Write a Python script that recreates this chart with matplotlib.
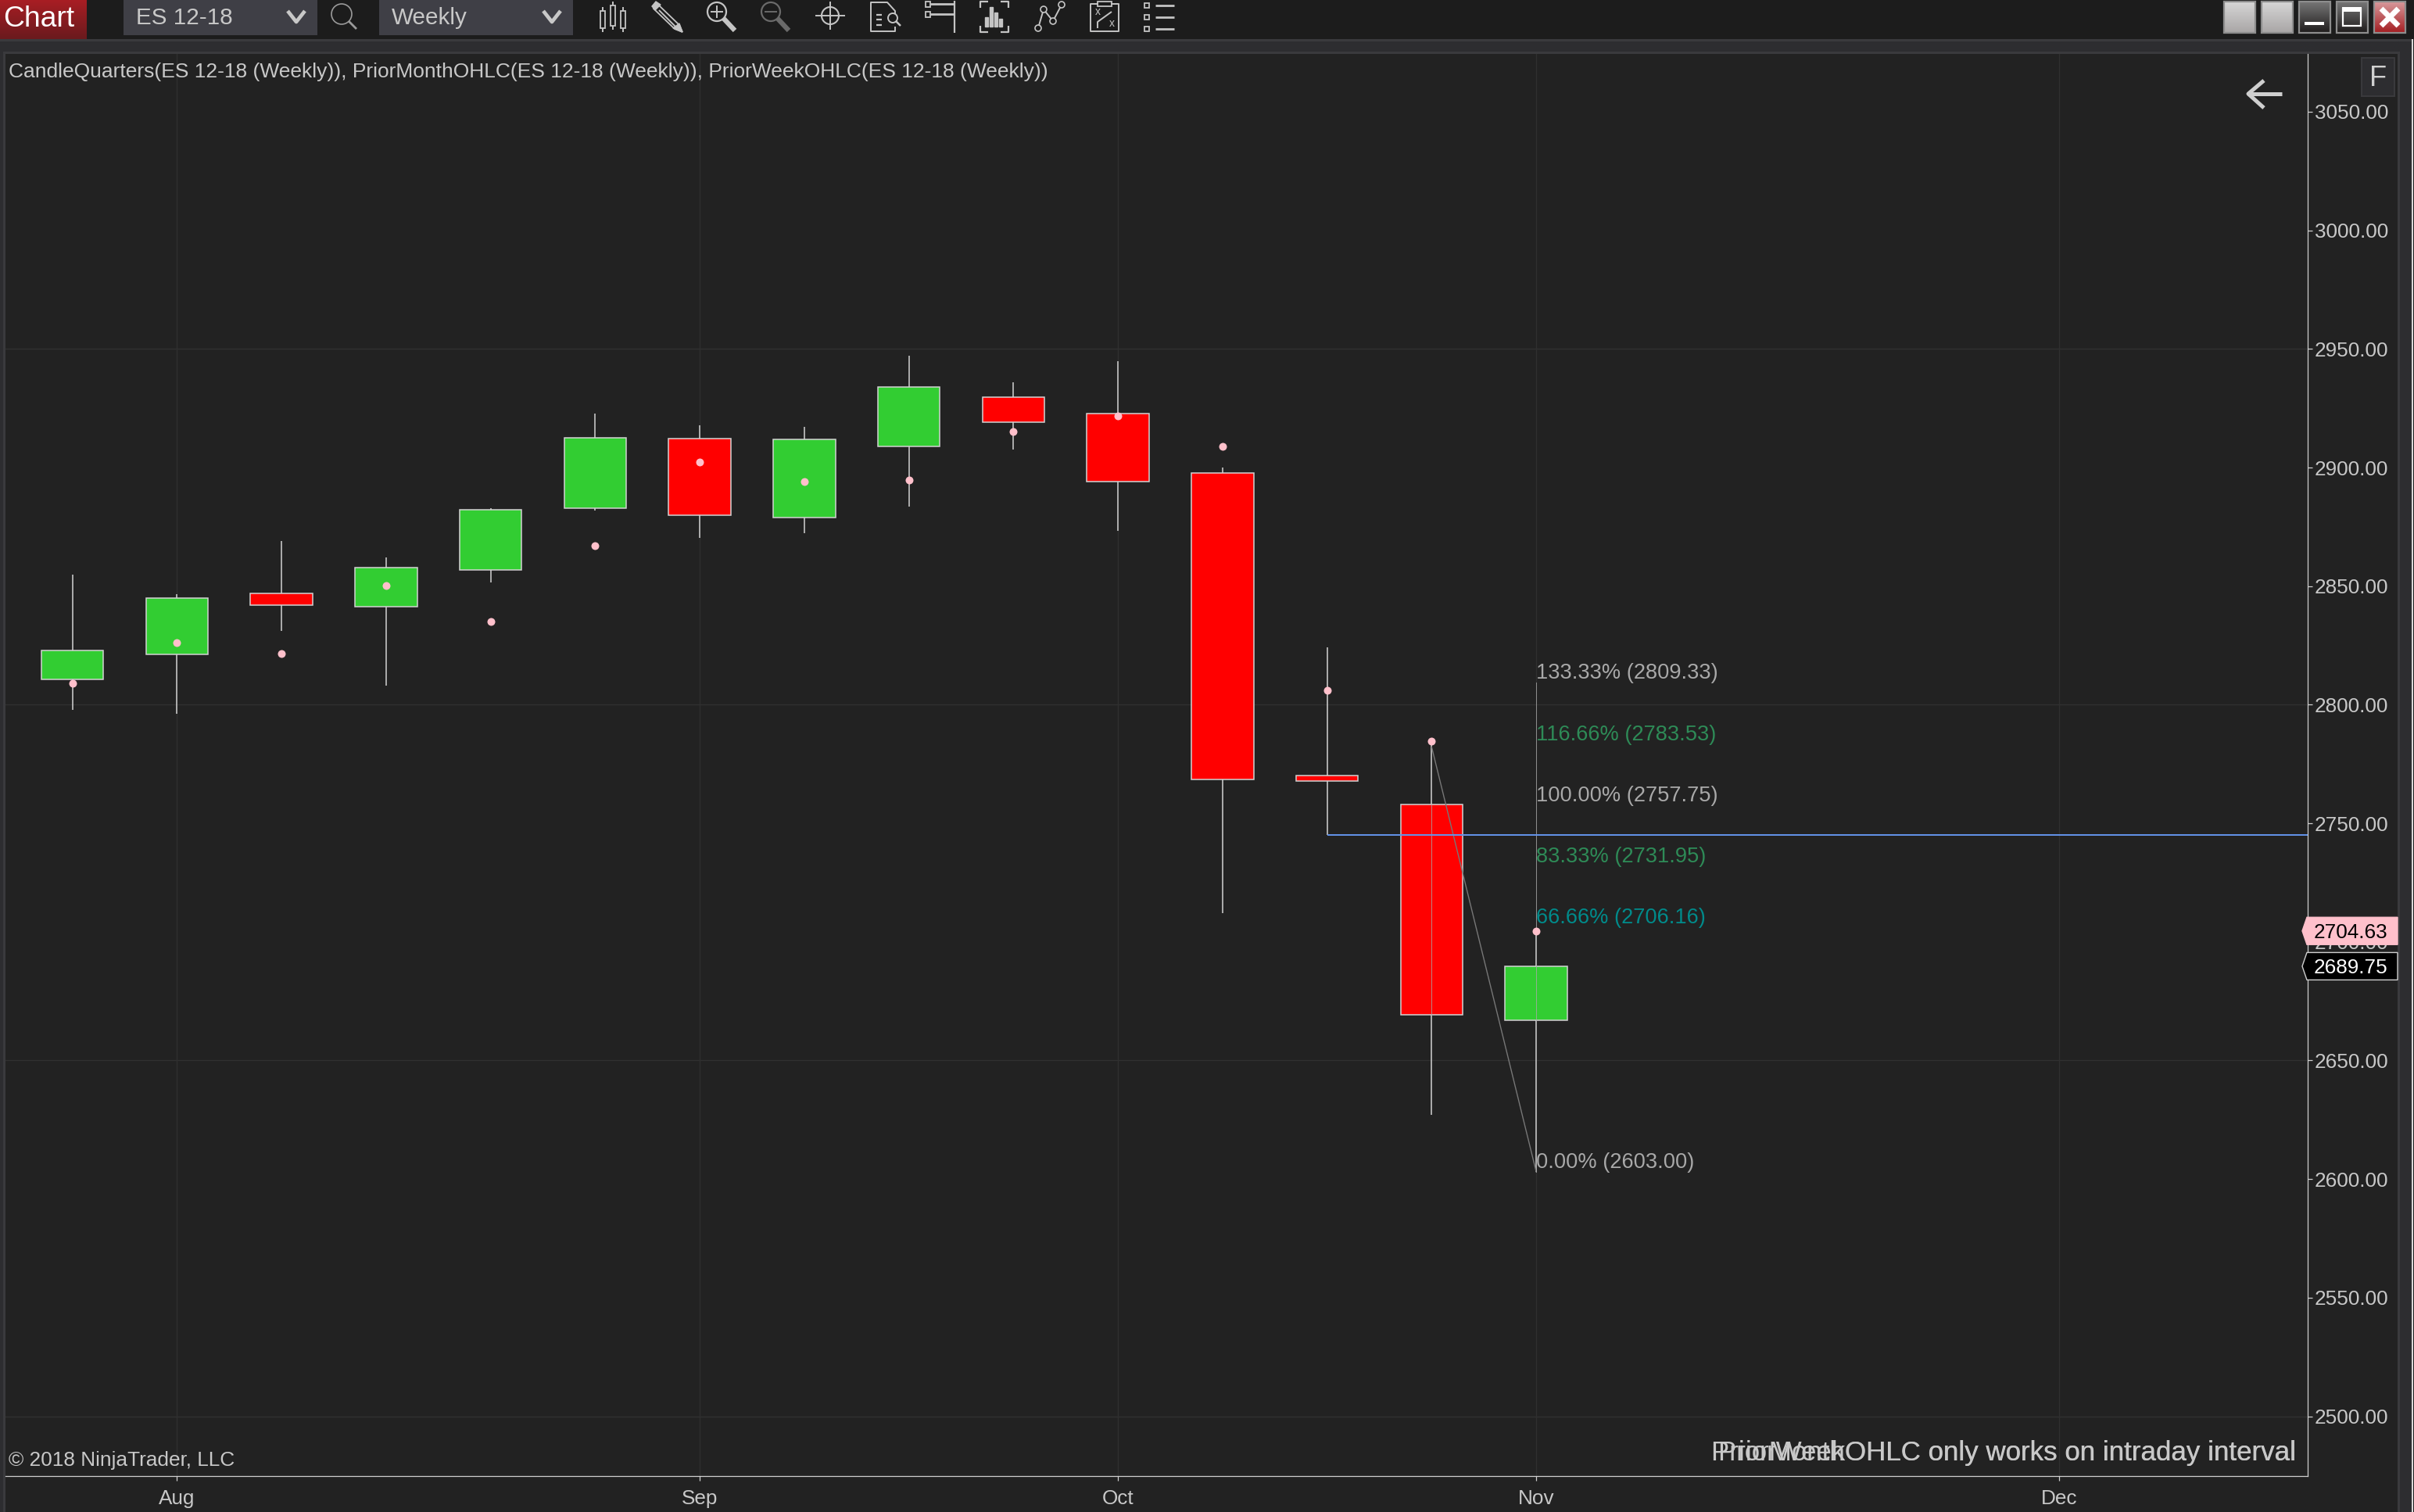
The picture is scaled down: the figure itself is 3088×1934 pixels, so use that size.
import numpy as np
import matplotlib
matplotlib.use("Agg")
import matplotlib.pyplot as plt
from matplotlib.patches import Rectangle, Circle, Polygon, Ellipse

plt.rcParams['font.family'] = ['Liberation Sans', 'DejaVu Sans']

# ---- data ----
opens  = [2810.6, 2821.3, 2846.8, 2841.2, 2856.9, 2883.0, 2912.1, 2879.0, 2909.0, 2929.6, 2922.6, 2897.6, 2770.0, 2758.0, 2667.0]
closes = [2822.8, 2844.8, 2842.1, 2857.7, 2882.1, 2912.4, 2880.0, 2911.8, 2933.8, 2919.2, 2894.2, 2768.6, 2767.7, 2669.4, 2689.75]
highs  = [2854.8, 2846.6, 2869.0, 2862.1, 2882.9, 2922.7, 2917.8, 2917.1, 2947.1, 2935.9, 2944.8, 2900.0, 2824.1, 2784.6, 2704.63]
lows   = [2797.9, 2796.3, 2831.2, 2808.1, 2851.5, 2881.9, 2870.3, 2872.3, 2883.6, 2907.6, 2873.4, 2712.1, 2745.1, 2627.2, 2603.0]
dots   = [2809.0, 2826.2, 2821.6, 2850.2, 2835.1, 2867.0, 2902.3, 2894.1, 2894.7, 2915.2, 2921.8, 2908.9, 2806.1, 2784.7, 2704.63]
month_idx = [1, 6, 10, 14, 19]
month_lbl = ['Aug', 'Sep', 'Oct', 'Nov', 'Dec']
y_ticks = [2500, 2550, 2600, 2650, 2700, 2750, 2800, 2850, 2900, 2950, 3000, 3050]
y_grid = [2500, 2650, 2800, 2950]
fib_pct = ['133.33%', '116.66%', '100.00%', '83.33%', '66.66%', '0.00%']
fib_val = [2809.33, 2783.53, 2757.75, 2731.95, 2706.16, 2603.00]
fib_col = ['#a9a9a9', '#2e8b57', '#a9a9a9', '#2e8b57', '#008b8b', '#a9a9a9']
blue_level = 2745.25
last_pink = 2704.63
last_close = 2689.75

W, H = 3088, 1934
BG = '#222222'
STRIP = '#2d2d30'
BORDER = '#3a3a3d'
TXT = '#c8c8c8'
TS = 18.8

fig = plt.figure(figsize=(W / 100, H / 100), dpi=100, facecolor=BG)

# under-layer chrome
under = fig.add_axes([0, 0, 1, 1], zorder=0)
under.set_xlim(0, W); under.set_ylim(H, 0); under.axis('off')
def rect(a, x0, y0, x1, y1, c, **k):
    a.add_patch(Rectangle((x0, y0), x1 - x0, y1 - y0, facecolor=c, edgecolor=k.pop('ec', 'none'), lw=k.pop('lw', 0), **k))
rect(under, 0, 0, W, 50, '#1c1c1c')
rect(under, 0, 50, W, 53, BORDER)
rect(under, 0, 53, W, 66, STRIP)
rect(under, 4, 66, 3070, 69, BORDER)
rect(under, 0, 66, 4, H, STRIP)
rect(under, 4, 66, 7, H, BORDER)
rect(under, 3067, 66, 3070, H, BORDER)
rect(under, 3070, 53, 3085, H, STRIP)
rect(under, 3085, 50, 3087, H, '#d8d8d8')
rect(under, 3087, 50, W, H, '#1c1c1c')

# main chart
x0, x1, y0, y1 = 7, 2952, 69, 1888
ax = fig.add_axes([x0 / W, 1 - y1 / H, (x1 - x0) / W, (y1 - y0) / H], zorder=1)
ax.set_facecolor(BG)
px_per_bar = 133.75
bar0_px = 92.7
ax.set_xlim((x0 - bar0_px) / px_per_bar, (x1 - bar0_px) / px_per_bar)
px_per_pt = 3.034
ax.set_ylim(2800 - (y1 - 901.4) / px_per_pt, 2800 + (901.4 - y0) / px_per_pt)

xs = np.arange(len(opens))
for s in ['top', 'left']:
    ax.spines[s].set_visible(False)
for s in ['right', 'bottom']:
    ax.spines[s].set_color('#d0d0d0'); ax.spines[s].set_linewidth(0.9)
ax.yaxis.tick_right()
ax.set_yticks(y_ticks)
ax.set_yticklabels([f'{v:.2f}' for v in y_ticks])
ax.set_xticks(month_idx)
ax.set_xticklabels(month_lbl)
ax.tick_params(axis='y', length=4, width=0.9, color='#d0d0d0', labelcolor=TXT, labelsize=TS, pad=2.5)
ax.tick_params(axis='x', length=4, width=0.9, color='#d0d0d0', labelcolor=TXT, labelsize=TS, pad=8.5)
for v in y_grid:
    ax.axhline(v, color='#313131', lw=1.0, zorder=1)
for v in month_idx:
    ax.axvline(v, color='#2f2f2f', lw=1.0, zorder=1)

ax.vlines(xs, lows, highs, color='#d3d3d3', lw=1.1, zorder=2)
for i in xs:
    up = closes[i] >= opens[i]
    ax.bar(i, abs(closes[i] - opens[i]), bottom=min(opens[i], closes[i]), width=0.595,
           color='#32cd32' if up else '#ff0000', edgecolor='#d3d3d3', linewidth=1.1, zorder=3)

# drawing tool and levels
ax.plot([13, 14], [highs[13] - 2.5, fib_val[-1]], color='#777777', lw=1.0, zorder=5)
ax.plot([13, 13], [closes[13], opens[13]], color='#a9a9a9', lw=0.7, alpha=.8, zorder=5)
ax.plot([14, 14], [fib_val[-1], fib_val[0]], color='#a9a9a9', lw=0.7, alpha=.8, zorder=5)
ax.plot([12, ax.get_xlim()[1]], [blue_level, blue_level], color='#6495ed', lw=1.4, zorder=6, solid_capstyle='butt')
ax.plot(xs, dots, ls='none', marker='o', ms=7.2, mfc='#ffc0cb', mec='none', zorder=7)
for p, v, c in zip(fib_pct, fib_val, fib_col):
    ax.annotate(f'{p} ({v:.2f})', (14, v), xytext=(0, -1), textcoords='offset points', color=c,
                fontsize=19.6, ha='left', va='bottom', zorder=8)

# top-layer chrome in pixels
top = fig.add_axes([0, 0, 1, 1], zorder=2)
top.set_facecolor('none'); top.patch.set_visible(False)
top.axis('off')

def grad(x0_, y0_, x1_, y1_, c0, c1):
    g = np.linspace(0, 1, 64)[:, None, None]
    a = np.array(matplotlib.colors.to_rgb(c0))[None, None, :]
    b = np.array(matplotlib.colors.to_rgb(c1))[None, None, :]
    top.imshow(a * (1 - g) + b * g, extent=(x0_, x1_, y1_, y0_), aspect='auto', zorder=1)

# Chart button and selectors
grad(0, 0, 111, 50, '#a81e24', '#6a1a1d')
top.text(4, 25, 'Chart', color='white', fontsize=26.8, va='center', ha='left')
for a, b, t in [(158, 406, 'ES 12-18'), (485, 733, 'Weekly')]:
    rect(top, a, 0, b, 45, '#3f3f46')
    top.text(a + 16, 23, t, color=TXT, fontsize=21.3, va='center', ha='left')
    top.plot([b - 38, b - 27, b - 16], [14, 28, 14], color=TXT, lw=3.4, solid_capstyle='butt')
IC = '#c4c4c4'
def ln(xs_, ys_, c=IC, lw=1.4):
    top.plot(xs_, ys_, color=c, lw=lw, solid_capstyle='butt')
def box(a, b, c, d, col=IC, lw=1.3):
    top.add_patch(Rectangle((a, b), c - a, d - b, fill=False, edgecolor=col, lw=lw))
def mag(cx, cy, r, hx, hy, col=IC, lw=1.4, hw=1.4):
    top.add_patch(Circle((cx, cy), r, fill=False, edgecolor=col, lw=lw))
    k = r * 0.707
    ln([cx + k, hx], [cy + k, hy], col, hw)

mag(437, 18, 13, 456, 37, '#9a9a9a', 1.2, 2)
# candles icon
for cx, a, b, t, d in [(771, 14, 36, 9, 41), (784, 7, 33, 2, 38), (797, 14, 36, 9, 41)]:
    box(cx - 3, a, cx + 3, b); ln([cx, cx], [t, a]); ln([cx, cx], [b, d])
# pencil
top.add_patch(Polygon([(842, 6), (869, 32), (873, 41), (863, 37), (836, 11)], fill=False, edgecolor=IC, lw=1.3))
top.add_patch(Polygon([(869, 30), (873, 41), (861, 36)], color=IC))
top.add_patch(Polygon([(839, 2), (845, 6), (838, 13), (834, 8)], color=IC))
ln([843, 865], [13, 35])
# zoom +
mag(917, 15, 12, 940, 39, IC, 1.6, 4.5)
ln([909, 925], [15, 15]); ln([917, 917], [7, 23])
# zoom -
mag(986, 15, 12, 1009, 39, '#6a6a6a', 1.6, 4.5)
ln([978, 994], [15, 15], '#6a6a6a')
# crosshair
top.add_patch(Circle((1062, 20), 11, fill=False, edgecolor=IC, lw=1.5))
ln([1043, 1081], [20, 20]); ln([1062, 1062], [2, 38])
# document
ln([1145, 1145, 1114, 1114, 1135, 1145, 1145], [34, 40, 40, 3, 3, 14, 18])
for yy, xe in [(19, 1125), (25, 1125), (32, 1125)]:
    ln([1121, xe + 3], [yy, yy], IC, 1.6)
mag(1142, 23, 6, 1152, 33, IC, 1.4, 1.8)
# fork
ln([1221, 1221], [1, 42], IC, 1.6)
ln([1190, 1221], [5, 5], IC, 2); ln([1190, 1221], [18, 18], IC, 2)
box(1184, 2, 1190, 9); box(1184, 15, 1190, 22)
# bars in brackets
for p in [([1254, 1254, 1264], [10, 2, 2]), ([1280, 1290, 1290], [2, 2, 10]),
          ([1254, 1254, 1264], [33, 41, 41]), ([1280, 1290, 1290], [41, 41, 33])]:
    ln(p[0], p[1], IC, 1.6)
for bx, t in [(1260, 22), (1266, 9), (1272, 16), (1278, 24)]:
    top.add_patch(Rectangle((bx, t), 3.5, 34 - t, color=IC))
# nodes
ln([1328, 1335, 1347, 1358], [36, 12, 27, 6])
for cx, cy in [(1328, 36), (1335, 12), (1347, 27), (1358, 6)]:
    top.add_patch(Ellipse((cx, cy), 8, 8, facecolor='#1c1c1c', edgecolor=IC, lw=1.2, zorder=4))
# clipboard
ln([1405, 1395, 1395, 1431, 1431, 1421], [5, 5, 40, 40, 5, 5])
box(1404, 2, 1422, 8)
top.text(1404, 15, 'x', color=IC, fontsize=10, ha='center', va='center')
top.text(1422, 30, 'x', color=IC, fontsize=10, ha='center', va='center')
ln([1404, 1404, 1422], [36, 28, 15])
# list
for yy in [7, 22, 37]:
    box(1464, yy - 3, 1470, yy + 3)
    ln([1478, 1502], [yy, yy], IC, 2)

# window buttons
for bx, kind in [(2845, 'g'), (2893, 'g'), (2941, 'min'), (2989, 'max'), (3037, 'x')]:
    if kind == 'g':
        grad(bx, 2, bx + 40, 42, '#d6d6d6', '#a9a6a6')
    elif kind == 'x':
        grad(bx, 2, bx + 40, 42, '#d89a9c', '#a41e22')
    else:
        grad(bx, 2, bx + 40, 42, '#777777', '#1f1c1c')
    top.add_patch(Rectangle((bx, 2), 40, 40, fill=False, edgecolor='#8d8d8d', lw=1.6, zorder=3))
    if kind == 'min':
        rect(top, bx + 7, 28, bx + 32, 32, 'white', zorder=4)
    if kind == 'max':
        top.add_patch(Rectangle((bx + 8, 11), 23, 22, fill=False, edgecolor='white', lw=1.6, zorder=4))
        rect(top, bx + 7, 9, bx + 32, 15, 'white', zorder=4)
    if kind == 'x':
        ln([bx + 9, bx + 31], [11, 33], 'white', 5); ln([bx + 9, bx + 31], [33, 11], 'white', 5)

# back arrow and F box
top.plot([2919, 2875], [120, 120], color='#cfcfcf', lw=3.6, solid_capstyle='butt')
top.plot([2896, 2876, 2896], [103, 120, 138], color='#cfcfcf', lw=3.6, solid_capstyle='butt')
rect(top, 3021, 74, 3063, 123, STRIP, ec=BORDER, lw=1.4)
top.text(3042, 100, 'F', color='#d0d0d0', fontsize=26, ha='center', va='center')

# price flags
def py(p):
    return 901.4 + (2800 - p) * px_per_pt
for p, fc, ec, tc in [(last_pink, '#ffc0cb', '#ffc0cb', 'black'), (last_close, 'black', '#d0d0d0', 'white')]:
    c = py(p)
    top.add_patch(Polygon([(2945, c), (2951, c - 17.5), (3067, c - 17.5), (3067, c + 17.5), (2951, c + 17.5)],
                          facecolor=fc, edgecolor=ec, lw=1.0, zorder=5))
    top.text(2960, c + 2, f'{p:.2f}', color=tc, fontsize=TS, ha='left', va='center', zorder=6)

# overlay texts
top.text(11, 92, 'CandleQuarters(ES 12-18 (Weekly)), PriorMonthOHLC(ES 12-18 (Weekly)), PriorWeekOHLC(ES 12-18 (Weekly))',
         color=TXT, fontsize=19.0, ha='left', va='center', zorder=6)
top.text(11, 1868, '\u00a9 2018 NinjaTrader, LLC', color=TXT, fontsize=18.9, ha='left', va='center', zorder=6)
top.text(2937, 1868, 'PriorMonthOHLC only works on intraday interval', color='#c8c8c8', fontsize=25.1,
         ha='right', va='baseline', zorder=6)
top.text(2937, 1868, 'PriorWeekOHLC only works on intraday interval', color='#c8c8c8', fontsize=25.1,
         ha='right', va='baseline', zorder=6)

top.set_xlim(0, W); top.set_ylim(H, 0)
fig.savefig('out.png', dpi=100, facecolor=BG)
